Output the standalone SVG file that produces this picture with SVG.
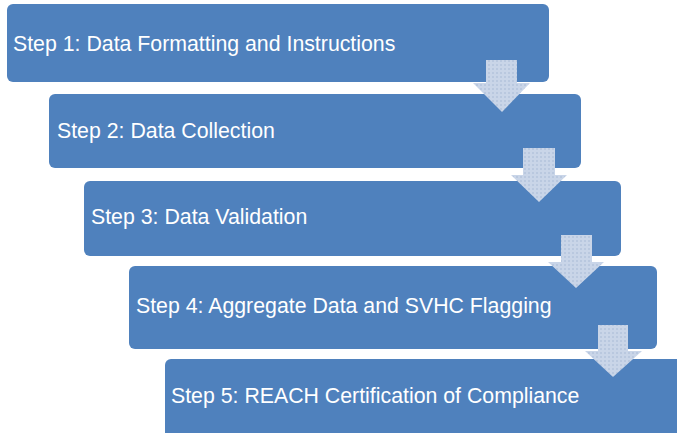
<svg xmlns="http://www.w3.org/2000/svg" width="677" height="433" viewBox="0 0 677 433">
<defs>
<pattern id="dots" width="4" height="4" patternUnits="userSpaceOnUse">
<rect width="4" height="4" fill="#c9d5e8"/>
<rect x="0" y="0" width="2" height="2" fill="#b9c8df"/>
</pattern>
<style>
.box{fill:#4f81bd;}
.lbl{fill:#ffffff;font-family:"Liberation Sans",Arial,sans-serif;font-size:21.3px;}
.arr{fill:url(#dots);}
</style>
</defs>
<rect width="677" height="433" fill="#ffffff"/>
<g id="step1"><rect class="box" x="7" y="4" width="542" height="78" rx="6"/><text class="lbl" x="13" y="51">Step 1: Data Formatting and Instructions</text></g>
<g id="step2"><rect class="box" x="49" y="94" width="532" height="74" rx="6"/><text class="lbl" x="57" y="138">Step 2: Data Collection</text></g>
<g id="step3"><rect class="box" x="84" y="181" width="537" height="75" rx="6"/><text class="lbl" x="91" y="224">Step 3: Data Validation</text></g>
<g id="step4"><rect class="box" x="129" y="266" width="528" height="83" rx="6"/><text class="lbl" x="136" y="313">Step 4: Aggregate Data and SVHC Flagging</text></g>
<g id="step5"><rect class="box" x="165" y="359" width="520" height="80" rx="6"/><text class="lbl" x="171" y="403">Step 5: REACH Certification of Compliance</text></g>
<g id="connectors">
<polygon class="arr" points="486,60 517,60 517,83 530,83 502,112 473,83 486,83"/>
<polygon class="arr" points="523,148 555,148 555,175 567,175 539,202 511,175 523,175"/>
<polygon class="arr" points="561,235 592,235 592,262 604,262 576,288 548,262 561,262"/>
<polygon class="arr" points="598,325 628,325 628,351 642,351 613,377 585,351 598,351"/>
</g>
</svg>
